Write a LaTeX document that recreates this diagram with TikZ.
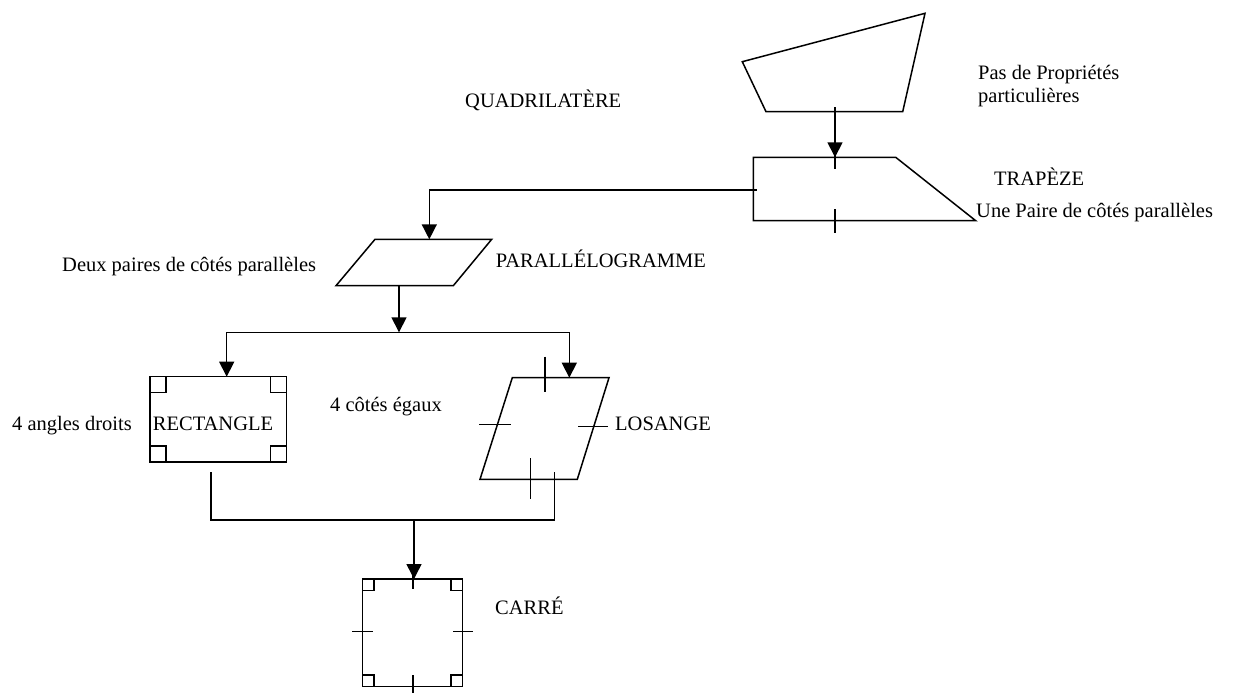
\documentclass[tikz,border=0pt]{standalone}
\usepackage{fontspec}
\setmainfont{Liberation Serif}
\usetikzlibrary{arrows.meta}
\begin{document}
\begin{tikzpicture}[x=1pt,y=-1pt,
  edge/.style={line width=1.5pt, line join=miter},
  flow/.style={edge, -{Triangle[length=15pt,width=15pt]}},
  tick/.style={line width=1.5pt},
  lbl/.style={anchor=base west, inner sep=0pt, font=\fontsize{20.5}{24}\selectfont}]
\useasboundingbox (0,0) rectangle (1233,693);

% ---- named points of the shapes ----
% general quadrilateral
\coordinate (q1) at (742.3,61.7);
\coordinate (q2) at (925,13.3);
\coordinate (q3) at (902.7,111.7);
\coordinate (q4) at (766,111.7);
\coordinate (qout) at (835,107);
% trapezium
\coordinate (t1) at (753.3,157.3);
\coordinate (t2) at (895.7,157.3);
\coordinate (t3) at (975.7,220.7);
\coordinate (t4) at (753.3,220.7);
\coordinate (tin) at (835,157.3);
\coordinate (tout) at (756.7,190);
% parallelogram
\coordinate (p1) at (375,239.3);
\coordinate (p2) at (491.7,239.3);
\coordinate (p3) at (453.3,285.7);
\coordinate (p4) at (336,285.7);
\coordinate (pin) at (429.3,239.3);
\coordinate (pout) at (399,285.7);
\coordinate (split) at (399,332.3);
% rectangle
\coordinate (r1) at (150,376.7);
\coordinate (r3) at (286.7,462);
\coordinate (rin) at (226.7,376.7);
\coordinate (rout) at (211,472.3);
% rhombus
\coordinate (l1) at (512.3,377.7);
\coordinate (l2) at (609,377.7);
\coordinate (l3) at (577.3,479.3);
\coordinate (l4) at (480,479.3);
\coordinate (lin) at (569.3,377.7);
\coordinate (lout) at (554.3,472.3);
% square
\coordinate (c1) at (362.7,579);
\coordinate (c3) at (462.7,686.7);
\coordinate (cin) at (414,579);
\coordinate (join) at (414,520);

% ---- shapes ----
\draw[edge] (q1) -- (q2) -- (q3) -- (q4) -- cycle;
\draw[edge] (t1) -- (t2) -- (t3) -- (t4) -- cycle;
\draw[edge] (p1) -- (p2) -- (p3) -- (p4) -- cycle;
\draw[edge] (r1) rectangle (r3);
\draw[edge] (l1) -- (l2) -- (l3) -- (l4) -- cycle;
\draw[edge] (c1) rectangle (c3);

% right-angle marks
\foreach \cx/\cy/\sx/\sy in {150/376.7/1/1, 286.7/376.7/-1/1, 150/462/1/-1, 286.7/462/-1/-1}
  \draw[tick] (\cx+\sx*16,\cy) -- (\cx+\sx*16,\cy+\sy*16) -- (\cx,\cy+\sy*16);
\foreach \cx/\cy/\sx/\sy in {362.7/579/1/1, 462.7/579/-1/1, 362.7/686.7/1/-1, 462.7/686.7/-1/-1}
  \draw[tick] (\cx+\sx*11.5,\cy) -- (\cx+\sx*11.5,\cy+\sy*11.5) -- (\cx,\cy+\sy*11.5);

% equal-side and parallel-side ticks
\draw[tick] (835,145) -- (835,169);
\draw[tick] (835,209) -- (835,232.7);
\draw[tick] (545,356.7) -- (545,392.3);
\draw[tick] (479.3,424.3) -- (510.7,424.3);
\draw[tick] (578.3,426.7) -- (607.7,426.7);
\draw[tick] (530.7,458.3) -- (530.7,499.3);
\draw[tick] (413,567.3) -- (413,589);
\draw[tick] (352.3,631.7) -- (373.3,631.7);
\draw[tick] (453.3,631.7) -- (472.7,631.7);
\draw[tick] (413,675) -- (413,693);

% ---- connectors ----
\draw[flow] (qout) -- (tin);
\draw[flow] (tout) -| (pin);
\draw[flow] (pout) -- (split);
\draw[edge] (rin |- split) -- (lin |- split);
\draw[flow] (rin |- split) -- (rin);
\draw[flow] (lin |- split) -- (lin);
\draw[edge] (rout) |- (join) -| (lout);
\draw[flow] (join) -- (cin);

% ---- labels ----
\node[lbl] (lquad) at (465,107) {QUADRILATÈRE};
\node[lbl] (lpas1) at (978,79) {Pas de Propriétés};
\node[lbl] (lpas2) at (978,102) {particulières};
\node[lbl] (ltrap) at (994,185) {TRAPÈZE};
\node[lbl] (ltrapd) at (976,217) {Une Paire de côtés parallèles};
\node[lbl] (lparad) at (62,271) {Deux paires de côtés parallèles};
\node[lbl] (lpara) at (495.7,267) {PARALLÉLOGRAMME};
\node[lbl] (lrectd) at (12,430.5) {4 angles droits};
\node[lbl] (lrect) at (152.7,430.5) {RECTANGLE};
\node[lbl] (llosd) at (330,411) {4 côtés égaux};
\node[lbl] (llos) at (615,430) {LOSANGE};
\node[lbl] (lcarre) at (495,614) {CARRÉ};
\end{tikzpicture}
\end{document}
